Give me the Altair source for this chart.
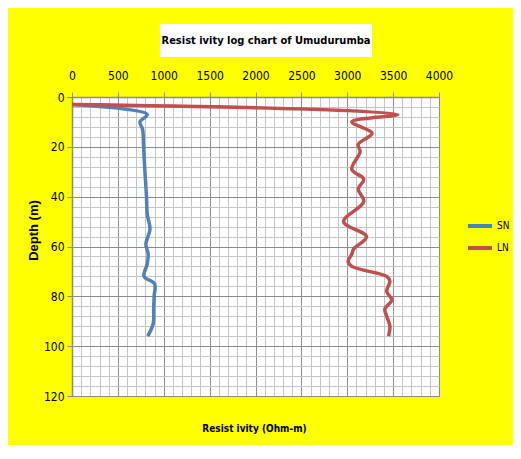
import altair as alt
import pandas as pd

title_text = "Resist ivity log chart of Umudurumba"
x_title = "Resist ivity (Ohm-m)"
y_title = "Depth (m)"
series_names = ["SN", "LN"]
series_colors = ["#4F81BD", "#C0504D"]

# SN (short normal) curve
sn_depth = [3, 7, 10, 13, 20, 30, 40, 47, 53, 59, 63, 67, 72, 75, 80, 85, 91, 96]
sn_res = [0, 820, 740, 770, 780, 795, 812, 820, 850, 805, 830, 820, 785, 900, 895, 890, 885, 825]

# LN (long normal) curve
ln_depth = [3, 7, 10, 14.5, 19, 22, 29, 33, 37, 42, 50, 56, 61, 63, 66, 68, 72, 74, 78, 81.5, 85, 88, 92, 96]
ln_res = [0, 3550, 3050, 3270, 3120, 3140, 3050, 3180, 3120, 3180, 2960, 3210, 3070, 3050, 3010, 3050,
          3430, 3465, 3430, 3485, 3410, 3430, 3465, 3450]

x_ticks = list(range(0, 4001, 100))
y_ticks = list(range(0, 121, 4))

rows = []
for i, (d, v) in enumerate(zip(sn_depth, sn_res)):
    rows.append({"series": "SN", "depth": d, "res": v, "order": i})
for i, (d, v) in enumerate(zip(ln_depth, ln_res)):
    rows.append({"series": "LN", "depth": d, "res": v, "order": i})
df = pd.DataFrame(rows)

FONT = "DejaVu Sans Condensed, Liberation Sans, sans-serif"
MAJOR = "#8c8c8c"
MINOR = "#c4c4c4"

x_axis = alt.Axis(
    orient="top",
    values=x_ticks,
    format="d",
    labelExpr="datum.value % 500 === 0 ? datum.label : ''",
    labelOverlap=False,
    labelFlush=False,
    labelFont=FONT,
    labelFontSize=12,
    labelColor="black",
    labelPadding=10,
    tickSize=5,
    tickColor={"condition": {"test": "datum.value % 500 === 0", "value": MAJOR}, "value": "transparent"},
    gridColor={"condition": {"test": "datum.value % 500 === 0", "value": MAJOR}, "value": MINOR},
    domainColor=MAJOR,
    domainWidth=1.5,
    title=x_title,
    titleFont=FONT,
    titleFontSize=10,
    titleFontWeight="bold",
    titleColor="black",
    titleX=182,
    titleY=331,
    titleAlign="center",
    titleBaseline="middle",
)

y_axis = alt.Axis(
    values=y_ticks,
    format="d",
    labelExpr="datum.value % 20 === 0 ? datum.label : ''",
    labelOverlap=False,
    labelFlush=False,
    labelFont=FONT,
    labelFontSize=12,
    labelColor="black",
    labelPadding=3,
    tickSize=5,
    tickColor={"condition": {"test": "datum.value % 20 === 0", "value": MAJOR}, "value": "transparent"},
    gridColor={"condition": {"test": "datum.value % 20 === 0", "value": MAJOR}, "value": MINOR},
    domainColor=MAJOR,
    domainWidth=1.5,
    title=y_title,
    titleFont="Liberation Sans, Arial, sans-serif",
    titleFontSize=13,
    titleFontWeight="bold",
    titleColor="black",
    titleX=-39,
    titleY=133,
    titleAngle=270,
    titleAlign="center",
    titleBaseline="middle",
)

lines = alt.Chart(df).mark_line(strokeWidth=3.5, interpolate="catmull-rom").encode(
    x=alt.X("res:Q", scale=alt.Scale(domain=[0, 4000], nice=False), axis=x_axis),
    y=alt.Y("depth:Q", scale=alt.Scale(domain=[0, 120], nice=False, reverse=True), axis=y_axis),
    color=alt.Color(
        "series:N",
        scale=alt.Scale(domain=series_names, range=series_colors),
        legend=alt.Legend(
            title=None,
            orient="none",
            legendX=394,
            legendY=115,
            symbolType="stroke",
            symbolSize=576,
            symbolStrokeWidth=4,
            labelFont=FONT,
            labelFontSize=10,
            labelColor="black",
            labelOffset=3,
            rowPadding=0,
        ),
    ),
    order="order:Q",
)

title_df = pd.DataFrame({"t": [title_text]})
box = alt.Chart(title_df).mark_rect(fill="white").encode(
    x=alt.value(88), x2=alt.value(300), y=alt.value(-73), y2=alt.value(-40)
)
ttl = alt.Chart(title_df).mark_text(
    font=FONT, fontSize=11, fontWeight="bold", align="center", baseline="middle", color="black"
).encode(x=alt.value(194), y=alt.value(-56), text="t:N")

chart = alt.layer(lines, box, ttl).properties(
    width=367,
    height=299,
    padding={"left": 64, "top": 89, "right": 74, "bottom": 49},
    autosize=alt.AutoSizeParams(type="none"),
    background="#FFFF00",
).configure_view(fill="white", stroke="transparent")

chart.save("out.html", embed_options={"renderer": "svg", "actions": False})
